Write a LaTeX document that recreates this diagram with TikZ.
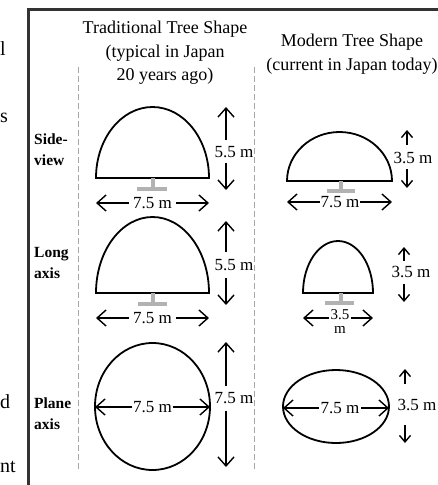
\documentclass[tikz,border=0pt]{standalone}
\usepackage{fontspec}
\setmainfont{Liberation Serif}
\usetikzlibrary{arrows.meta}
\tikzset{
  outl/.style={line width=1.8pt, black},
  dim/.style={line width=1.4pt, -{Straight Barb[length=9pt,width=16pt,line width=1.4pt]}},
  dimsm/.style={line width=1.4pt, -{Straight Barb[length=6.5pt,width=11pt,line width=1.4pt]}},
  trunk/.style={fill=gray!60, draw=none},
  lbl/.style={font=\fontsize{17}{19}\selectfont, inner sep=1.5pt},
  rowlbl/.style={font=\bfseries\fontsize{15.5}{21}\selectfont, align=left, anchor=west, inner sep=0pt},
  head/.style={font=\fontsize{18}{23.5}\selectfont, align=center, inner sep=0pt},
  vdash/.style={gray!70, line width=0.8pt, dash pattern=on 6pt off 3pt},
  frag/.style={font=\fontsize{20}{24}\selectfont, anchor=base west, inner sep=0pt}
}
\begin{document}
\begin{tikzpicture}[x=1pt,y=1pt]
\useasboundingbox (0,0) rectangle (438,-485);
% frame
\draw[line width=2.5pt, black!80] (28.5,-485) -- (28.5,-9.5) -- (438,-9.5);
% fragments of neighbouring text
\node[frag] (f1) at (0,-55) {l};
\node[frag] (f2) at (0,-122) {s};
\node[frag] (f3) at (0,-408) {d};
\node[frag] (f4) at (0,-472) {nt};
% headings
\node[head] (htrad) at (165,-53) {Traditional Tree Shape\\(typical in Japan\\20 years ago)};
\node[head] (hmod) at (352,-54) {Modern Tree Shape\\(current in Japan today)};
% dashed guides
\draw[vdash] (78,-67) -- (78,-470);
\draw[vdash] (254,-67) -- (254,-470);
% row labels
\node[rowlbl] (r1) at (34,-150) {Side-\\view};
\node[rowlbl] (r2) at (34,-263) {Long\\axis};
\node[rowlbl] (r3) at (34,-414) {Plane\\axis};

% ===== Row 1 traditional
\draw[outl] (96,-178) arc[start angle=180, end angle=0, x radius=56.5, y radius=71] -- cycle;
\fill[trunk] (150.5,-178) rectangle (154.5,-188);
\fill[trunk] (137,-187) rectangle (167,-191);
\node[lbl, inner sep=4pt] (w1) at (152.5,-203) {7.5 m};
\coordinate (w1l) at (96,-203); \coordinate (w1r) at (209,-203);
\draw[dim] (w1) -- (w1l); \draw[dim] (w1) -- (w1r);
\node[lbl] (h1) at (234,-152) {5.5 m};
\coordinate (h1a) at (226,-140); \coordinate (h1t) at (226,-107);
\coordinate (h1b) at (226,-163); \coordinate (h1d) at (226,-190);
\draw[dim] (h1a) -- (h1t); \draw[dim] (h1b) -- (h1d);

% ===== Row 1 modern
\draw[outl] (287,-181) arc[start angle=180, end angle=0, x radius=52.5, y radius=49] -- cycle;
\fill[trunk] (339,-181) rectangle (343,-190);
\fill[trunk] (327,-189) rectangle (355,-193);
\node[lbl, inner sep=0.5pt] (w2) at (340,-202) {7.5 m};
\coordinate (w2l) at (287,-202); \coordinate (w2r) at (392,-202);
\draw[dim] (w2) -- (w2l); \draw[dim] (w2) -- (w2r);
\node[lbl] (h2) at (413,-158) {3.5 m};
\coordinate (h2a) at (407,-145); \coordinate (h2t) at (407,-130);
\coordinate (h2b) at (407,-169); \coordinate (h2d) at (407,-188);
\draw[dimsm] (h2a) -- (h2t); \draw[dimsm] (h2b) -- (h2d);

% ===== Row 2 traditional
\draw[outl] (96,-293) arc[start angle=180, end angle=0, x radius=56.5, y radius=76] -- cycle;
\fill[trunk] (150.5,-293) rectangle (154.5,-303);
\fill[trunk] (138,-302) rectangle (167,-306);
\node[lbl, inner sep=4pt] (w3) at (152.5,-318) {7.5 m};
\coordinate (w3l) at (96,-318); \coordinate (w3r) at (209,-318);
\draw[dim] (w3) -- (w3l); \draw[dim] (w3) -- (w3r);
\node[lbl] (h3) at (234,-265) {5.5 m};
\coordinate (h3a) at (226,-252); \coordinate (h3t) at (226,-221);
\coordinate (h3b) at (226,-278); \coordinate (h3d) at (226,-305);
\draw[dim] (h3a) -- (h3t); \draw[dim] (h3b) -- (h3d);

% ===== Row 2 modern
\draw[outl] (303,-293) arc[start angle=180, end angle=0, x radius=35, y radius=52] -- cycle;
\fill[trunk] (338.5,-293) rectangle (342.5,-302);
\fill[trunk] (325,-301) rectangle (354,-305);
\node[lbl, font=\fontsize{15}{14}\selectfont, align=center, inner sep=1pt] (w4) at (340,-322) {3.5\\m};
\coordinate (w4l) at (303,-318); \coordinate (w4r) at (373,-318);
\draw[dim] (w4.west |- w4l) -- (w4l); \draw[dim] (w4.east |- w4r) -- (w4r);
\node[lbl] (h4) at (411,-272) {3.5 m};
\coordinate (h4a) at (404,-261); \coordinate (h4t) at (404,-247);
\coordinate (h4b) at (404,-284); \coordinate (h4d) at (404,-302);
\draw[dimsm] (h4a) -- (h4t); \draw[dimsm] (h4b) -- (h4d);

% ===== Row 3 traditional
\draw[outl] (152.5,-406.5) ellipse[x radius=57.5, y radius=63.5];
\node[lbl, inner sep=0.5pt] (w5) at (152.5,-407) {7.5 m};
\coordinate (w5l) at (95,-407); \coordinate (w5r) at (210,-407);
\draw[dim] (w5) -- (w5l); \draw[dim] (w5) -- (w5r);
\node[lbl] (h5) at (234,-398) {7.5 m};
\coordinate (h5a) at (226,-386); \coordinate (h5t) at (226,-342);
\coordinate (h5b) at (226,-411); \coordinate (h5d) at (226,-467);
\draw[dim] (h5a) -- (h5t); \draw[dim] (h5b) -- (h5d);

% ===== Row 3 modern
\draw[outl] (336,-406.5) ellipse[x radius=53, y radius=36.5];
\node[lbl] (w6) at (340,-408) {7.5 m};
\coordinate (w6l) at (283,-408); \coordinate (w6r) at (389,-408);
\draw[dim] (w6) -- (w6l); \draw[dim] (w6) -- (w6r);
\node[lbl] (h6) at (417,-405) {3.5 m};
\coordinate (h6a) at (405,-384); \coordinate (h6t) at (405,-369);
\coordinate (h6b) at (405,-425); \coordinate (h6d) at (405,-443);
\draw[dimsm] (h6a) -- (h6t); \draw[dimsm] (h6b) -- (h6d);
\end{tikzpicture}
\end{document}
